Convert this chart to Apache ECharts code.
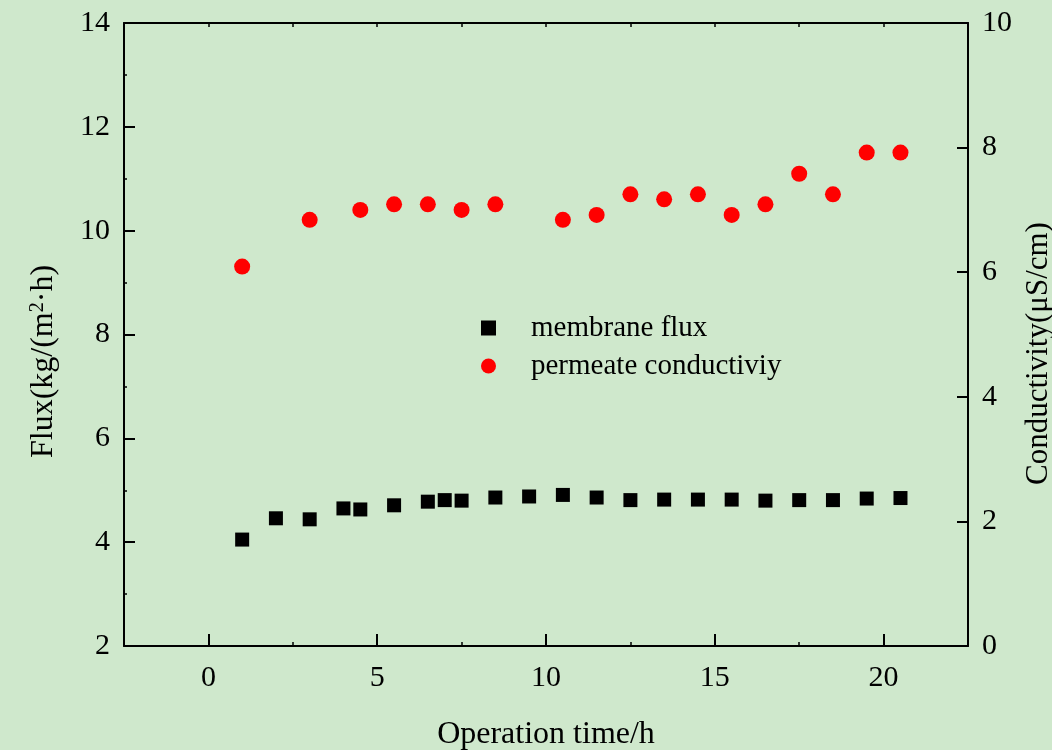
<!DOCTYPE html>
<html>
<head>
<meta charset="utf-8">
<script src="https://cdn.jsdelivr.net/npm/echarts@6/dist/echarts.min.js"></script>
<style>
  html, body { margin: 0; padding: 0; background: #cfe8cc; }
  #chart { width: 1052px; height: 750px; }
</style>
</head>
<body>
<div id="chart"></div>
<script>
// operation time (h) for each sample
const fluxTime = [1, 2, 3, 4, 4.5, 5.5, 6.5, 7, 7.5, 8.5, 9.5, 10.5, 11.5, 12.5, 13.5, 14.5, 15.5, 16.5, 17.5, 18.5, 19.5, 20.5];
const fluxValues = [4.05, 4.46, 4.44, 4.65, 4.63, 4.71, 4.78, 4.81, 4.80, 4.86, 4.88, 4.91, 4.86, 4.81, 4.82, 4.82, 4.82, 4.80, 4.81, 4.81, 4.84, 4.85];

const condTime = [1, 3, 4.5, 5.5, 6.5, 7.5, 8.5, 10.5, 11.5, 12.5, 13.5, 14.5, 15.5, 16.5, 17.5, 18.5, 19.5, 20.5];
const condValues = [6.09, 6.84, 7.00, 7.09, 7.09, 7.00, 7.09, 6.84, 6.92, 7.25, 7.17, 7.25, 6.92, 7.09, 7.58, 7.25, 7.92, 7.92];

const seriesNames = ['membrane flux', 'permeate conductiviy'];
const timeTicks = [0, 5, 10, 15, 20];

const font = 'Liberation Serif, Times New Roman, serif';
const axisColor = '#000';

function pairs(xs, ys) {
  return xs.map((x, i) => [x, ys[i]]);
}

const chart = echarts.init(document.getElementById('chart'));

// shared range for the three x axes (bottom labelled, bottom minor marks, top frame)
const xRange = { type: 'value', min: -2.5, max: 22.5, interval: 2.5 };

const option = {
  backgroundColor: '#cfe8cc',
  animation: false,
  grid: { left: 124, right: 84, top: 23, bottom: 104, outerBoundsMode: 'none' },
  legend: {
    orient: 'vertical',
    left: 476,
    top: 308,
    itemWidth: 15,
    itemHeight: 15,
    itemGap: 8,
    data: [
      { name: seriesNames[0], icon: 'rect' },
      { name: seriesNames[1], icon: 'circle' }
    ],
    textStyle: { fontFamily: font, fontSize: 29, color: '#000', lineHeight: 30, padding: [0, 0, 0, 30] }
  },
  xAxis: [Object.assign({}, xRange, {
    position: 'bottom',
    name: 'Operation time/h',
    nameLocation: 'middle',
    nameGap: 73,
    nameTextStyle: { fontFamily: font, fontSize: 32, color: '#000' },
    axisLine: { onZero: false, lineStyle: { color: axisColor, width: 2 } },
    axisTick: { inside: true, length: 12, customValues: timeTicks, lineStyle: { color: axisColor, width: 2 } },
    axisLabel: { fontFamily: font, fontSize: 30, color: '#000', margin: 17, customValues: timeTicks },
    splitLine: { show: false }
  }), Object.assign({}, xRange, {
    position: 'bottom',
    axisLine: { show: false, onZero: false },
    axisTick: { inside: true, length: 4, lineStyle: { color: axisColor, width: 1.5 } },
    axisLabel: { show: false },
    splitLine: { show: false }
  }), Object.assign({}, xRange, {
    position: 'top',
    axisLine: { onZero: false, lineStyle: { color: axisColor, width: 2 } },
    axisTick: { inside: true, length: 4, lineStyle: { color: axisColor, width: 1.5 } },
    axisLabel: { show: false },
    splitLine: { show: false }
  })],
  yAxis: [{
    type: 'value',
    min: 2,
    max: 14,
    interval: 2,
    position: 'left',
    name: 'Flux(kg/(m{sup|2}·h)',
    nameLocation: 'middle',
    nameRotate: 90,
    nameGap: 64,
    nameTextStyle: {
      fontFamily: font, fontSize: 32, color: '#000',
      padding: [0, 54, 0, 0],
      rich: { sup: { fontFamily: font, fontSize: 20, verticalAlign: 'top', padding: [0, 0, 12, 0] } }
    },
    axisLine: { show: true, onZero: false, lineStyle: { color: axisColor, width: 2 } },
    axisTick: { inside: true, length: 11, lineStyle: { color: axisColor, width: 2 } },
    minorTick: { show: true, splitNumber: 2, length: 3, lineStyle: { color: axisColor, width: 1.5 } },
    axisLabel: { fontFamily: font, fontSize: 30, color: '#000', margin: 14 },
    splitLine: { show: false }
  }, {
    type: 'value',
    min: 0,
    max: 10,
    interval: 2,
    position: 'right',
    name: 'Conductivity(μS/cm)',
    nameLocation: 'middle',
    nameRotate: 90,
    nameGap: 55,
    nameTextStyle: { fontFamily: font, fontSize: 31, color: '#000', padding: [0, 38, 0, 0] },
    axisLine: { show: true, onZero: false, lineStyle: { color: axisColor, width: 2 } },
    axisTick: { inside: true, length: 11, lineStyle: { color: axisColor, width: 2 } },
    axisLabel: { fontFamily: font, fontSize: 30, color: '#000', margin: 14 },
    splitLine: { show: false }
  }],
  series: [{
    name: seriesNames[0],
    type: 'scatter',
    xAxisIndex: 0,
    yAxisIndex: 0,
    symbol: 'rect',
    symbolSize: 14,
    itemStyle: { color: '#000', opacity: 1 },
    data: pairs(fluxTime, fluxValues)
  }, {
    name: seriesNames[1],
    type: 'scatter',
    xAxisIndex: 0,
    yAxisIndex: 1,
    symbol: 'circle',
    symbolSize: 16,
    itemStyle: { color: '#ff0000', opacity: 1 },
    data: pairs(condTime, condValues)
  }]
};

chart.setOption(option);
</script>
</body>
</html>
